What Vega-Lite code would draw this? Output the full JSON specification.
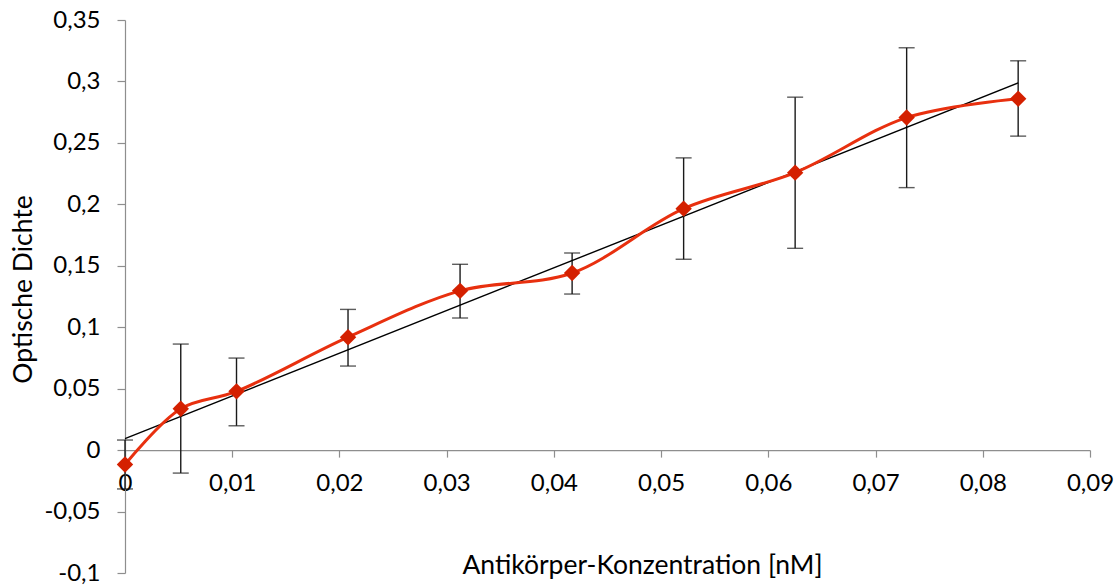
{
  "$schema": "https://vega.github.io/schema/vega-lite/v6.json",
  "width": 965,
  "height": 553,
  "autosize": {"type": "none"},
  "padding": {"left": 125, "top": 20, "right": 29, "bottom": 14},
  "background": "white",
  "config": {
    "view": {"stroke": null},
    "font": "Lato",
    "axis": {
      "labelFont": "Lato",
      "titleFont": "Lato",
      "labelFontSize": 24,
      "titleFontSize": 26.5,
      "labelFontWeight": "normal",
      "titleFontWeight": "normal",
      "labelColor": "#000000",
      "titleColor": "#000000",
      "domainColor": "#8e8e8e",
      "tickColor": "#8e8e8e",
      "domainWidth": 1.2,
      "tickWidth": 1.2,
      "grid": false
    }
  },
  "data": {
    "values": [
      {"x": 0, "y": -0.0117, "lo": -0.0316, "hi": 0.0082},
      {"x": 0.0052, "y": 0.0337, "lo": -0.0187, "hi": 0.0863},
      {"x": 0.0104, "y": 0.0478, "lo": 0.0198, "hi": 0.0749},
      {"x": 0.0208, "y": 0.0919, "lo": 0.0684, "hi": 0.1145},
      {"x": 0.03125, "y": 0.1296, "lo": 0.1075, "hi": 0.1512},
      {"x": 0.0417, "y": 0.1441, "lo": 0.127, "hi": 0.1604},
      {"x": 0.0521, "y": 0.1965, "lo": 0.1553, "hi": 0.2378},
      {"x": 0.0625, "y": 0.2258, "lo": 0.1642, "hi": 0.2872},
      {"x": 0.0729, "y": 0.2706, "lo": 0.2136, "hi": 0.3274},
      {"x": 0.0833, "y": 0.2859, "lo": 0.2555, "hi": 0.3168}
    ]
  },
  "encoding": {
    "x": {
      "field": "x",
      "type": "quantitative",
      "scale": {"domain": [0, 0.09], "nice": false, "zero": false},
      "axis": {
        "title": "Antikörper-Konzentration [nM]",
        "values": [0, 0.01, 0.02, 0.03, 0.04, 0.05, 0.06, 0.07, 0.08, 0.09],
        "labelExpr": "replace(toString(datum.value), '.', ',')",
        "offset": -122.9,
        "tickSize": 7,
        "labelPadding": 14,
        "labelFlush": false,
        "labelOverlap": false,
        "titleX": 517,
        "titleY": 123,
        "titleBaseline": "alphabetic",
        "titleAlign": "center",
        "titleAnchor": null
      }
    },
    "y": {
      "field": "y",
      "type": "quantitative",
      "scale": {"domain": [-0.1, 0.35], "nice": false, "zero": false},
      "axis": {
        "title": "Optische Dichte",
        "values": [-0.1, -0.05, 0, 0.05, 0.1, 0.15, 0.2, 0.25, 0.3, 0.35],
        "labelExpr": "replace(toString(datum.value), '.', ',')",
        "tickSize": 8,
        "labelPadding": 17,
        "labelFlush": false,
        "labelOverlap": false,
        "titleX": -102,
        "titleY": 269,
        "titleAngle": -90,
        "titleAlign": "center",
        "titleBaseline": "middle",
        "titleAnchor": null
      }
    }
  },
  "layer": [
    {
      "mark": {"type": "rule", "color": "#1a1a1a", "strokeWidth": 1.4},
      "encoding": {"y": {"field": "lo", "type": "quantitative"}, "y2": {"field": "hi"}}
    },
    {
      "mark": {"type": "tick", "orient": "horizontal", "color": "#1a1a1a", "thickness": 1.4, "size": 16},
      "encoding": {"y": {"field": "lo", "type": "quantitative"}}
    },
    {
      "mark": {"type": "tick", "orient": "horizontal", "color": "#1a1a1a", "thickness": 1.4, "size": 16},
      "encoding": {"y": {"field": "hi", "type": "quantitative"}}
    },
    {
      "transform": [{"regression": "y", "on": "x"}],
      "mark": {"type": "line", "color": "#000000", "strokeWidth": 1.4},
      "encoding": {}
    },
    {
      "mark": {"type": "line", "color": "#e8300f", "strokeWidth": 3, "interpolate": "catmull-rom"},
      "encoding": {}
    },
    {
      "mark": {"type": "point", "shape": "diamond", "filled": true, "color": "#d42000", "opacity": 1, "size": 270},
      "encoding": {}
    }
  ]
}
